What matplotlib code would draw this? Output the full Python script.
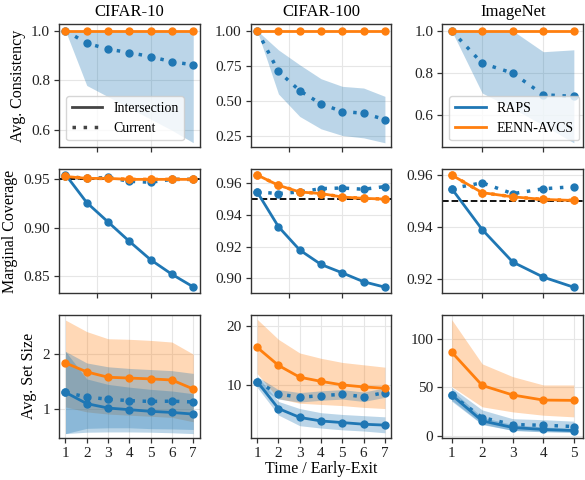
import numpy as np
import matplotlib
matplotlib.use("Agg")
import matplotlib.pyplot as plt
from matplotlib.lines import Line2D

plt.rcParams['font.family'] = ['Liberation Serif', 'DejaVu Serif']
plt.rcParams['font.size'] = 11

BLUE = "#1f77b4"
ORANGE = "#ff7f0e"

x7 = [1, 2, 3, 4, 5, 6, 7]
x5 = [1, 2, 3, 4, 5]
titles = ["CIFAR-10", "CIFAR-100", "ImageNet"]
ylabels = ["Avg. Consistency", "Marginal Coverage", "Avg. Set Size"]

# --- row 1: consistency (RAPS current + band, EENN-AVCS) ---
c10_cons_raps = [1.0, 0.950, 0.926, 0.912, 0.896, 0.875, 0.863]
c10_cons_lo = [1.0, 0.78, 0.735, 0.69, 0.645, 0.60, 0.55]
c10_cons_hi = [1.0, 1.0, 1.0, 1.0, 1.0, 1.0, 1.0]
c10_cons_eenn = [1.0, 1.0, 1.0, 1.0, 1.0, 1.0, 1.0]

c100_cons_raps = [1.0, 0.71, 0.573, 0.479, 0.425, 0.413, 0.368]
c100_cons_lo = [1.0, 0.55, 0.39, 0.302, 0.255, 0.238, 0.203]
c100_cons_hi = [1.0, 0.863, 0.757, 0.658, 0.604, 0.592, 0.533]
c100_cons_eenn = [1.0, 1.0, 1.0, 1.0, 1.0, 1.0, 1.0]

imn_cons_raps = [1.0, 0.845, 0.798, 0.695, 0.687]
imn_cons_lo = [1.0, 0.703, 0.63, 0.55, 0.466]
imn_cons_hi = [1.0, 1.0, 1.0, 0.90, 0.909]
imn_cons_eenn = [1.0, 1.0, 1.0, 1.0, 1.0]

# --- row 2: marginal coverage ---
c10_cov_raps_int = [0.955, 0.926, 0.906, 0.886, 0.867, 0.852, 0.839]
c10_cov_raps_cur = [0.953, 0.951, 0.952, 0.948, 0.947, 0.950, 0.950]
c10_cov_eenn = [0.953, 0.951, 0.951, 0.950, 0.950, 0.950, 0.950]

c100_cov_raps_int = [0.9545, 0.9326, 0.9179, 0.9088, 0.9035, 0.8979, 0.8945]
c100_cov_raps_cur = [0.9545, 0.9535, 0.9545, 0.9566, 0.9570, 0.9562, 0.9579]
c100_cov_eenn = [0.9652, 0.9587, 0.9545, 0.9535, 0.9513, 0.9505, 0.9500]

imn_cov_raps_int = [0.9548, 0.9390, 0.9265, 0.9207, 0.9168]
imn_cov_raps_cur = [0.9548, 0.9570, 0.9528, 0.9547, 0.9555]
imn_cov_eenn = [0.9600, 0.9532, 0.9516, 0.9506, 0.9502]

# --- row 3: set size ---
c10_size_raps_int = [1.305, 1.10, 1.02, 0.99, 0.96, 0.94, 0.91]
c10_size_raps_int_lo = [0.555, 0.65, 0.66, 0.66, 0.645, 0.64, 0.63]
c10_size_raps_int_hi = [2.05, 1.55, 1.45, 1.40, 1.36, 1.33, 1.28]
c10_size_raps_cur = [1.305, 1.22, 1.18, 1.155, 1.14, 1.145, 1.13]
c10_size_raps_cur_lo = [0.555, 0.58, 0.585, 0.585, 0.58, 0.57, 0.555]
c10_size_raps_cur_hi = [2.05, 1.84, 1.77, 1.74, 1.72, 1.70, 1.65]
c10_size_eenn = [1.84, 1.677, 1.58, 1.565, 1.55, 1.53, 1.366]
c10_size_eenn_lo = [1.04, 0.95, 0.91, 0.89, 0.87, 0.85, 0.77]
c10_size_eenn_hi = [2.62, 2.41, 2.28, 2.27, 2.25, 2.22, 2.0]

c100_size_raps_int = [10.56, 6.0, 4.5, 3.9, 3.63, 3.35, 3.2]
c100_size_raps_int_lo = [9.6, 4.9, 3.1, 2.7, 2.4, 2.2, 1.9]
c100_size_raps_int_hi = [11.5, 7.2, 6.0, 5.3, 5.0, 4.8, 4.6]
c100_size_raps_cur = [10.56, 8.47, 7.9, 8.2, 8.4, 8.0, 8.7]
c100_size_raps_cur_lo = [9.8, 7.6, 7.1, 7.4, 7.6, 7.2, 7.9]
c100_size_raps_cur_hi = [11.4, 9.2, 8.7, 9.0, 9.2, 8.8, 9.5]
c100_size_eenn = [16.35, 13.3, 11.3, 10.6, 10.0, 9.66, 9.43]
c100_size_eenn_lo = [11.9, 7.7, 6.9, 6.7, 6.5, 6.2, 6.0]
c100_size_eenn_hi = [21.1, 17.7, 15.4, 14.5, 13.8, 13.4, 13.0]

imn_size_raps_int = [42.3, 15.8, 9.0, 7.0, 5.9]
imn_size_raps_int_lo = [37.0, 12.5, 6.0, 4.5, 3.8]
imn_size_raps_int_hi = [47.5, 19.5, 12.0, 9.5, 8.0]
imn_size_raps_cur = [42.3, 19.2, 12.0, 11.3, 10.0]
imn_size_raps_cur_lo = [36.0, 12.0, 6.0, 5.0, 4.5]
imn_size_raps_cur_hi = [50.0, 27.0, 18.0, 17.0, 15.5]
imn_size_eenn = [86.3, 52.1, 42.3, 37.1, 36.8]
imn_size_eenn_lo = [51.0, 30.2, 25.0, 21.6, 19.9]
imn_size_eenn_hi = [119.6, 74.2, 61.1, 52.6, 52.6]


def line(ax, x, y, color, ls="-", z=3):
    if ls == "-":
        ax.plot(x, y, color=color, lw=2, marker="o", ms=5, zorder=z)
    else:
        ax.plot(x, y, color=color, lw=2.5, ls=(0, (1, 2.2)), marker="o", ms=5, zorder=z)


def band(ax, x, lo, hi, color):
    ax.fill_between(x, lo, hi, color=color, alpha=0.3, lw=0, zorder=1)


fig, axes = plt.subplots(3, 3, figsize=(5.85, 4.8), dpi=100)
fig.subplots_adjust(left=0.101, right=0.9966, top=0.95, bottom=0.0875,
                    wspace=0.364, hspace=0.177)

xs = [x7, x7, x5]

# row 1
cons = [(c10_cons_raps, c10_cons_lo, c10_cons_hi, c10_cons_eenn),
        (c100_cons_raps, c100_cons_lo, c100_cons_hi, c100_cons_eenn),
        (imn_cons_raps, imn_cons_lo, imn_cons_hi, imn_cons_eenn)]
for j, (r, lo, hi, e) in enumerate(cons):
    ax = axes[0, j]
    band(ax, xs[j], lo, hi, BLUE)
    line(ax, xs[j], r, BLUE, ":")
    line(ax, xs[j], e, ORANGE, "-", z=4)

# row 2
cov = [(c10_cov_raps_int, c10_cov_raps_cur, c10_cov_eenn),
       (c100_cov_raps_int, c100_cov_raps_cur, c100_cov_eenn),
       (imn_cov_raps_int, imn_cov_raps_cur, imn_cov_eenn)]
for j, (ri, rc, e) in enumerate(cov):
    ax = axes[1, j]
    ax.axhline(0.95, color="black", ls="--", lw=1.3, zorder=2)
    line(ax, xs[j], ri, BLUE, "-")
    line(ax, xs[j], rc, BLUE, ":")
    line(ax, xs[j], e, ORANGE, "-", z=4)
    line(ax, xs[j], e, ORANGE, ":", z=4)

# row 3
size = [(c10_size_raps_int, c10_size_raps_int_lo, c10_size_raps_int_hi,
         c10_size_raps_cur, c10_size_raps_cur_lo, c10_size_raps_cur_hi,
         c10_size_eenn, c10_size_eenn_lo, c10_size_eenn_hi),
        (c100_size_raps_int, c100_size_raps_int_lo, c100_size_raps_int_hi,
         c100_size_raps_cur, c100_size_raps_cur_lo, c100_size_raps_cur_hi,
         c100_size_eenn, c100_size_eenn_lo, c100_size_eenn_hi),
        (imn_size_raps_int, imn_size_raps_int_lo, imn_size_raps_int_hi,
         imn_size_raps_cur, imn_size_raps_cur_lo, imn_size_raps_cur_hi,
         imn_size_eenn, imn_size_eenn_lo, imn_size_eenn_hi)]
for j, (ri, ril, rih, rc, rcl, rch, e, el, eh) in enumerate(size):
    ax = axes[2, j]
    band(ax, xs[j], el, eh, ORANGE)
    band(ax, xs[j], ril, rih, BLUE)
    band(ax, xs[j], rcl, rch, BLUE)
    line(ax, xs[j], ri, BLUE, "-")
    line(ax, xs[j], rc, BLUE, ":")
    line(ax, xs[j], e, ORANGE, "-", z=4)

ylims = [[(0.531, 1.027), (0.17, 1.047), (0.444, 1.032)],
         [(0.833, 0.9604), (0.891, 0.9688), (0.9147, 0.9622)],
         [(0.475, 2.72), (1.02, 21.9), (-1.75, 124.7)]]
yticks = [[[0.6, 0.8, 1.0], [0.25, 0.5, 0.75, 1.0], [0.6, 0.8, 1.0]],
          [[0.85, 0.90, 0.95], [0.90, 0.92, 0.94, 0.96], [0.92, 0.94, 0.96]],
          [[1, 2], [10, 20], [0, 50, 100]]]
yfmt = [["{:.1f}", "{:.2f}", "{:.1f}"],
        ["{:.2f}", "{:.2f}", "{:.2f}"],
        ["{:.0f}", "{:.0f}", "{:.0f}"]]

for i in range(3):
    for j in range(3):
        ax = axes[i, j]
        n = len(xs[j])
        ax.set_xlim(0.7, n + 0.3)
        ax.set_ylim(*ylims[i][j])
        ax.set_yticks(yticks[i][j])
        ax.set_yticklabels([yfmt[i][j].format(v) for v in yticks[i][j]])
        if i < 2:
            ax.set_xticks([2.5, 5] if n == 7 else [2, 4])
            ax.set_xticklabels([])
        else:
            ax.set_xticks(xs[j])
        ax.grid(True, color="#e6e6e6", lw=0.8, zorder=0)
        ax.set_axisbelow(True)
        for s in ax.spines.values():
            s.set_color("#333333")
            s.set_linewidth(1.0)
        ax.tick_params(colors="#333333", labelcolor="#222222", labelsize=11,
                       length=3.5, width=0.9, pad=3)
    axes[i, 0].set_ylabel(ylabels[i], fontsize=11.5)

for j in range(3):
    axes[0, j].set_title(titles[j], fontsize=12, pad=6)
axes[2, 1].set_xlabel("Time / Early-Exit", fontsize=11.5, labelpad=1)

style_handles = [Line2D([], [], color="#444444", lw=2, ls="-"),
                 Line2D([], [], color="#444444", lw=2.5, ls=(0, (1, 2.2)))]
axes[0, 0].legend(style_handles, ["Intersection", "Current"], loc="lower left",
                  fontsize=10, framealpha=0.8, edgecolor="#cccccc", handlelength=2.2)
color_handles = [Line2D([], [], color=BLUE, lw=2),
                 Line2D([], [], color=ORANGE, lw=2)]
axes[0, 2].legend(color_handles, ["RAPS", "EENN-AVCS"], loc="lower left",
                  fontsize=10, framealpha=0.8, edgecolor="#cccccc", handlelength=2.2)

fig.savefig("out.png", dpi=100)
